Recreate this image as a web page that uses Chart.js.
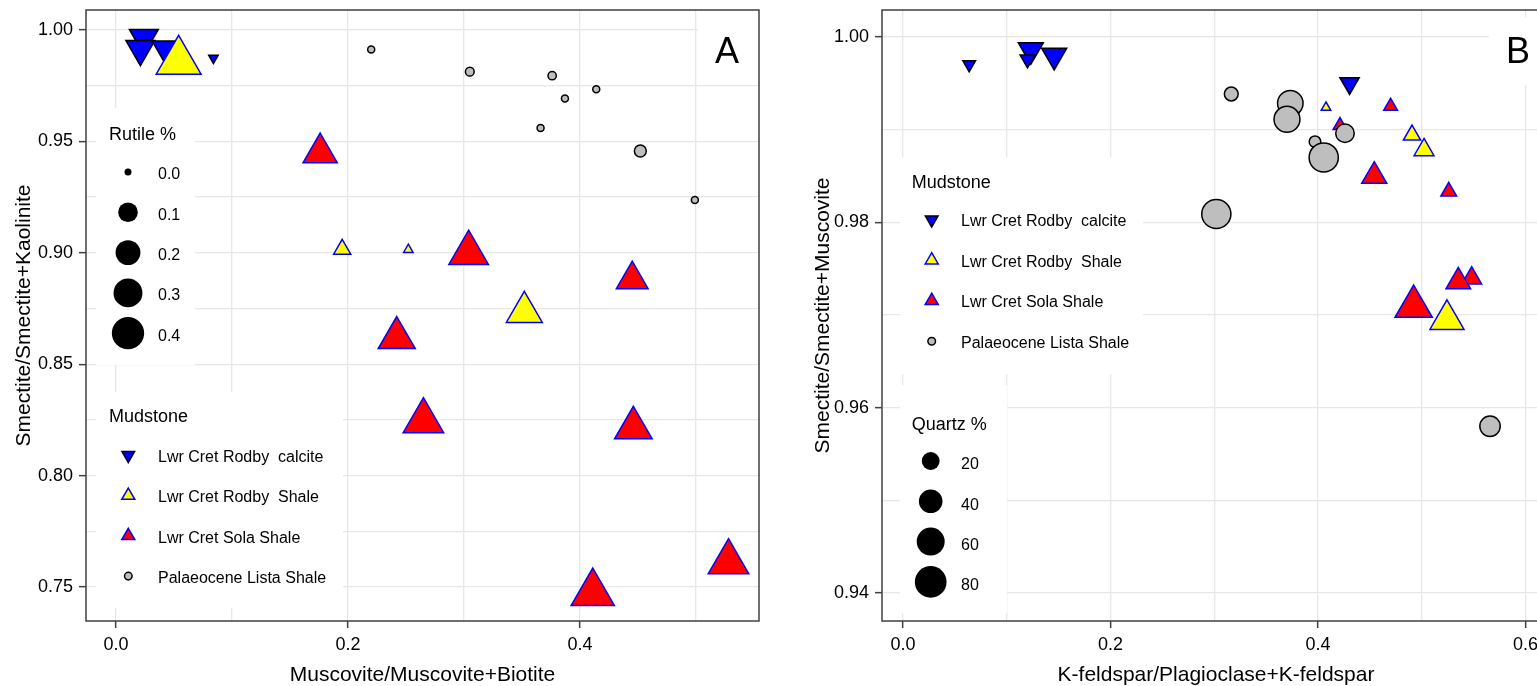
<!DOCTYPE html>
<html>
<head>
<meta charset="utf-8">
<script src="https://cdn.jsdelivr.net/npm/chart.js@4.4.1/dist/chart.umd.min.js"></script>
<style>
  html, body { margin: 0; padding: 0; background: #fff; overflow: hidden; width: 1537px; height: 686px; }
  #chartA { position: absolute; left: 0; top: 0; }
  #chartB { position: absolute; left: 790px; top: 0; }
</style>
</head>
<body>
<canvas id="chartA" width="770" height="686"></canvas>
<canvas id="chartB" width="770" height="686"></canvas>
<script>
const mudstones = ["Lwr Cret Rodby  calcite", "Lwr Cret Rodby  Shale", "Lwr Cret Sola Shale", "Palaeocene Lista Shale"];

// Panel A - Muscovite/Muscovite+Biotite vs Smectite/Smectite+Kaolinite, symbol size = rutile %
const aCalciteX = [0.024, 0.021, 0.043, 0.084];
const aCalciteY = [0.9965, 0.9915, 0.9915, 0.9874];
const aCalciteRutile = [0.13, 0.13, 0.11, 0.0];
const aRodbyX = [0.054, 0.195, 0.252, 0.352];
const aRodbyY = [0.986, 0.9016, 0.9014, 0.8734];
const aRodbyRutile = [0.43, 0.02, 0.0, 0.24];
const aSolaX = [0.176, 0.304, 0.445, 0.242, 0.265, 0.446, 0.411, 0.528];
const aSolaY = [0.9449, 0.8999, 0.888, 0.8618, 0.8245, 0.8214, 0.7473, 0.7612];
const aSolaRutile = [0.21, 0.31, 0.17, 0.26, 0.33, 0.27, 0.39, 0.33];
const aListaX = [0.220, 0.305, 0.376, 0.387, 0.414, 0.366, 0.452, 0.499];
const aListaY = [0.9913, 0.9813, 0.9795, 0.9693, 0.9734, 0.956, 0.9457, 0.9237];
const aListaRutile = [0, 0.002, 0.001, 0, 0, 0, 0.015, 0];
const rutileLegend = [0.0, 0.1, 0.2, 0.3, 0.4];
const aXGrid = [0, 0.1, 0.2, 0.3, 0.4, 0.5];
const aXLabels = ["0.0", "", "0.2", "", "0.4", ""];
const aYGrid = [0.75, 0.775, 0.8, 0.825, 0.85, 0.875, 0.9, 0.925, 0.95, 0.975, 1.0];
const aYLabels = ["0.75", "", "0.80", "", "0.85", "", "0.90", "", "0.95", "", "1.00"];

// Panel B - K-feldspar/Plagioclase+K-feldspar vs Smectite/Smectite+Muscovite, symbol size = quartz %
const bCalciteX = [0.0638, 0.1232, 0.1457, 0.120, 0.4304];
const bCalciteY = [0.99703, 0.99861, 0.9980, 0.99759, 0.99501];
const bCalciteQuartz = [3, 22, 22, 5, 11];
const bRodbyX = [0.4077, 0.4906, 0.5022, 0.5243];
const bRodbyY = [0.99239, 0.98942, 0.98781, 0.96951];
const bRodbyQuartz = [1, 8, 12, 47];
const bSolaX = [0.470, 0.4212, 0.4542, 0.526, 0.5481, 0.5352, 0.4922];
const bSolaY = [0.99253, 0.99045, 0.98499, 0.98334, 0.97397, 0.9736, 0.97091];
const bSolaQuartz = [4, 4, 22, 6, 12, 21, 58];
const bListaX = [0.3164, 0.3733, 0.3701, 0.3971, 0.426, 0.4055, 0.302, 0.5658];
const bListaY = [0.99385, 0.99284, 0.99112, 0.9887, 0.98961, 0.9870, 0.9809, 0.958];
const bListaQuartz = [10, 48, 50, 6, 22, 66, 66, 28];
const quartzLegend = [20, 40, 60, 80];
const bXGrid = [0, 0.1, 0.2, 0.3, 0.4, 0.5, 0.6];
const bXLabels = ["0.0", "", "0.2", "", "0.4", "", "0.6"];
const bYGrid = [0.94, 0.95, 0.96, 0.97, 0.98, 0.99, 1.0];
const bYLabels = ["0.94", "", "0.96", "", "0.98", "", "1.00"];

const FONT = "'Liberation Sans', Arial, sans-serif";
Chart.defaults.font.family = FONT;
Chart.defaults.color = "#000";

const sizeA = v => 3.5 + 20 * Math.sqrt(v);
const sizeB = q => 2 + 1.55 * Math.sqrt(q);
const TRI = 1.56; // triangle radius relative to circle of equal area

const styles = [
  { pointStyle: "triangle", rotation: 180, fill: "#0000ff", stroke: "#000000", tri: true },
  { pointStyle: "triangle", rotation: 0, fill: "#ffff00", stroke: "#0000ff", tri: true },
  { pointStyle: "triangle", rotation: 0, fill: "#ff0000", stroke: "#0000ff", tri: true },
  { pointStyle: "circle", rotation: 0, fill: "#bebebe", stroke: "#000000", tri: false }
];
const drawOrder = [3, 1, 2, 0];

function points(xs, ys, vs) {
  return xs.map((x, i) => ({ x: x, y: ys[i], v: vs[i] }));
}

function makeDatasets(series, sizeFn) {
  return series.map((data, k) => {
    const s = styles[k];
    return {
      label: mudstones[k],
      data: data,
      order: drawOrder[k],
      pointStyle: s.pointStyle,
      pointRotation: s.rotation,
      pointBackgroundColor: s.fill,
      pointBorderColor: s.stroke,
      pointBorderWidth: 1.5,
      pointRadius: ctx => {
        const r = sizeFn(ctx.raw.v);
        return s.tri ? r * TRI : r;
      },
      showLine: false
    };
  });
}

function marker(ctx, style, x, y, r, fill, stroke) {
  ctx.beginPath();
  if (style === "circle") {
    ctx.arc(x, y, r, 0, Math.PI * 2);
  } else {
    let rad = (style === "down" ? 180 : 0) * Math.PI / 180;
    for (let i = 0; i < 3; i++) {
      const px = x + Math.sin(rad) * r, py = y - Math.cos(rad) * r;
      if (i === 0) ctx.moveTo(px, py); else ctx.lineTo(px, py);
      rad += 2 * Math.PI / 3;
    }
    ctx.closePath();
  }
  ctx.fillStyle = fill;
  ctx.fill();
  if (stroke) {
    ctx.strokeStyle = stroke;
    ctx.lineWidth = 1.5;
    ctx.stroke();
  }
}

const mudMarkers = [
  { style: "down", r: 7.3, fill: "#0000ff", stroke: "#000000" },
  { style: "up", r: 7.5, fill: "#ffff00", stroke: "#0000ff" },
  { style: "up", r: 7.5, fill: "#ff0000", stroke: "#0000ff" },
  { style: "circle", r: 3.8, fill: "#bebebe", stroke: "#000000" }
];

const panelDecor = {
  id: "panelDecor",
  beforeDatasetsDraw(chart, args, opts) {
    const ctx = chart.ctx, a = chart.chartArea;
    ctx.save();
    ctx.fillStyle = "#fff";
    opts.boxes.forEach(b => ctx.fillRect(a.left + b[0], a.top + b[1], b[2], b[3]));

    ctx.fillStyle = "#000";
    ctx.textBaseline = "middle";
    ctx.textAlign = "center";
    ctx.font = "36px " + FONT;
    ctx.fillText(opts.letter, a.left + opts.letterX, a.top + opts.letterY);

    opts.legends.forEach(lg => {
      ctx.textAlign = "left";
      ctx.fillStyle = "#000";
      ctx.font = "18px " + FONT;
      ctx.fillText(lg.title, a.left + lg.x, a.top + lg.titleY);
      ctx.font = "16px " + FONT;
      lg.items.forEach((it, i) => {
        const y = a.top + lg.firstY + i * lg.step;
        if (lg.kind === "size") {
          marker(ctx, "circle", a.left + lg.markerX, y + lg.markerDy, lg.sizeFn(it), "#000", null);
        } else {
          const m = mudMarkers[i];
          marker(ctx, m.style, a.left + lg.markerX, y + lg.markerDy, m.r, m.fill, m.stroke);
        }
        ctx.fillStyle = "#000";
        ctx.fillText(lg.labels[i], a.left + lg.labelX, y);
      });
    });
    ctx.restore();
  },
  afterDraw(chart) {
    const ctx = chart.ctx, a = chart.chartArea;
    ctx.save();
    ctx.strokeStyle = "#404040";
    ctx.lineWidth = 1.5;
    ctx.strokeRect(a.left, a.top, a.right - a.left, a.bottom - a.top);
    ctx.restore();
  }
};

function axis(min, max, grid, labels, title, titlePad, fit) {
  return {
    type: "linear",
    min: min,
    max: max,
    afterBuildTicks: s => { s.ticks = grid.map(v => ({ value: v })); },
    afterFit: s => {
      fit(s);
      s.paddingTop = 0; s.paddingBottom = 0; s.paddingLeft = 0; s.paddingRight = 0;
    },
    border: { display: false },
    grid: {
      color: "#e8e8e8",
      lineWidth: 1.3,
      drawTicks: true,
      tickLength: 7,
      tickWidth: 1.5,
      tickColor: c => labels[c.index] ? "#404040" : "rgba(0,0,0,0)"
    },
    ticks: {
      autoSkip: false,
      maxRotation: 0,
      font: { size: 18 },
      color: "#000",
      padding: 6,
      callback: (v, i) => labels[i]
    },
    title: {
      display: true,
      text: title,
      color: "#000",
      font: { size: 21, lineHeight: 1 },
      padding: titlePad
    }
  };
}

new Chart(document.getElementById("chartA"), {
  type: "scatter",
  data: {
    datasets: makeDatasets([
      points(aCalciteX, aCalciteY, aCalciteRutile),
      points(aRodbyX, aRodbyY, aRodbyRutile),
      points(aSolaX, aSolaY, aSolaRutile),
      points(aListaX, aListaY, aListaRutile)
    ], sizeA)
  },
  options: {
    responsive: false,
    animation: false,
    events: [],
    layout: { autoPadding: false, padding: { top: 10, right: 11, left: 0, bottom: 0 } },
    plugins: {
      legend: { display: false },
      tooltip: { enabled: false },
      panelDecor: {
        boxes: [[612, 0, 62, 72], [10, 98, 99, 257], [10, 382, 247, 216]],
        letter: "A", letterX: 641, letterY: 43,
        legends: [
          { kind: "size", title: "Rutile %", x: 23, titleY: 125, items: rutileLegend,
            labels: rutileLegend.map(v => v.toFixed(1)), sizeFn: sizeA,
            firstY: 165, step: 40.3, markerX: 42, markerDy: -3, labelX: 72 },
          { kind: "mud", title: "Mudstone", x: 23, titleY: 407, items: mudstones,
            labels: mudstones, firstY: 447.7, step: 40.3, markerX: 42.3, markerDy: -2.5, labelX: 72 }
        ]
      }
    },
    scales: {
      x: axis(-0.02586, 0.5543, aXGrid, aXLabels, "Muscovite/Muscovite+Biotite", { top: 0, bottom: 0 },
        s => { s.height = 65; }),
      y: axis(0.73474, 1.00898, aYGrid, aYLabels, "Smectite/Smectite+Kaolinite", { top: 13.5, bottom: 0 },
        s => { s.width = 86; })
    }
  },
  plugins: [panelDecor]
});

new Chart(document.getElementById("chartB"), {
  type: "scatter",
  data: {
    datasets: makeDatasets([
      points(bCalciteX, bCalciteY, bCalciteQuartz),
      points(bRodbyX, bRodbyY, bRodbyQuartz),
      points(bSolaX, bSolaY, bSolaQuartz),
      points(bListaX, bListaY, bListaQuartz)
    ], sizeB)
  },
  options: {
    responsive: false,
    animation: false,
    events: [],
    layout: { autoPadding: false, padding: { top: 10, right: 10, left: 0, bottom: 0 } },
    plugins: {
      legend: { display: false },
      tooltip: { enabled: false },
      panelDecor: {
        boxes: [[607, 7, 80, 68], [18, 147, 243, 217], [18, 375, 107, 228]],
        letter: "B", letterX: 636, letterY: 43,
        legends: [
          { kind: "mud", title: "Mudstone", x: 29.7, titleY: 172.7, items: mudstones,
            labels: mudstones, firstY: 211.7, step: 40.5, markerX: 49.7, markerDy: -2, labelX: 79 },
          { kind: "size", title: "Quartz %", x: 29.7, titleY: 415, items: quartzLegend,
            labels: quartzLegend.map(String), sizeFn: sizeB,
            firstY: 455, step: 40.3, markerX: 48.7, markerDy: -4, labelX: 79 }
        ]
      }
    },
    scales: {
      x: axis(-0.02024, 0.6236, bXGrid, bXLabels, "K-feldspar/Plagioclase+K-feldspar", { top: 0, bottom: 0 },
        s => { s.height = 65; }),
      y: axis(0.936978, 1.002914, bYGrid, bYLabels, "Smectite/Smectite+Muscovite", { top: 22.5, bottom: 0 },
        s => { s.width = 92; })
    }
  },
  plugins: [panelDecor]
});
</script>
</body>
</html>
